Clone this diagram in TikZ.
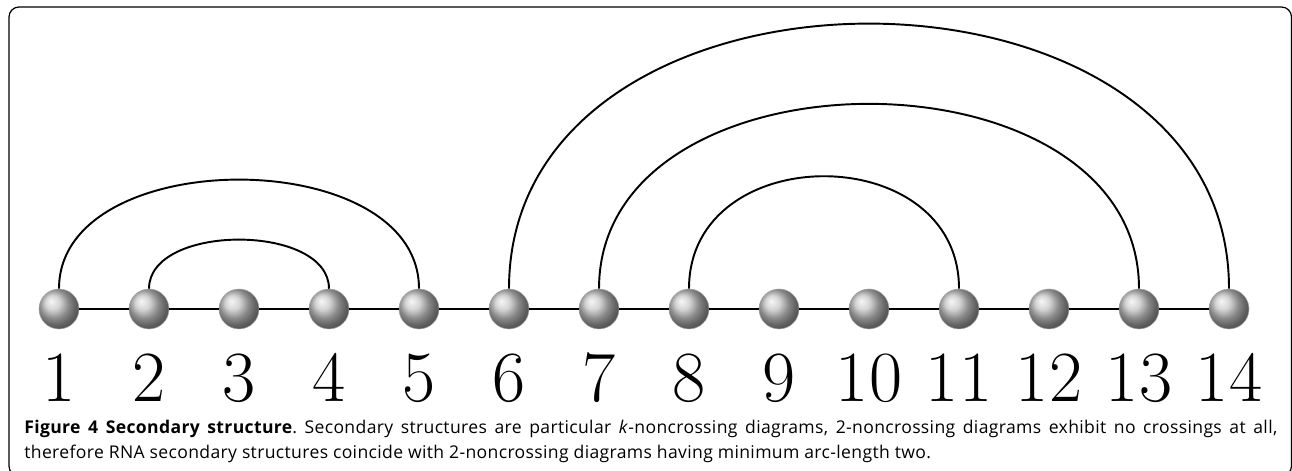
\documentclass[tikz,border=0pt]{standalone}
\usepackage{fontspec}
\newfontfamily\capfont[LetterSpace=2.0]{Open Sans}

\tikzset{
  bead/.style={circle,minimum size=.8cm,inner sep=0pt,shading=ball,ball color=gray!45,draw=gray!70,line width=.3pt},
  idx/.style={anchor=base,inner sep=0pt,font=\fontsize{41}{41}\selectfont},
  chain/.style={line width=1.1pt},
  pair/.style={line width=1.1pt}
}

\begin{document}
\begin{tikzpicture}
\useasboundingbox (0,0) rectangle (25.84,9.42);
\draw[rounded corners=.2cm,line width=.7pt] (.18,-.1) rectangle (25.83,9.28);
% beads
\node[bead] (b1) at (1.18,3.24) {};
\node[bead] (b2) at (2.98,3.24) {};
\node[bead] (b3) at (4.78,3.24) {};
\node[bead] (b4) at (6.58,3.24) {};
\node[bead] (b5) at (8.38,3.24) {};
\node[bead] (b6) at (10.18,3.24) {};
\node[bead] (b7) at (11.98,3.24) {};
\node[bead] (b8) at (13.78,3.24) {};
\node[bead] (b9) at (15.58,3.24) {};
\node[bead] (b10) at (17.38,3.24) {};
\node[bead] (b11) at (19.18,3.24) {};
\node[bead] (b12) at (20.98,3.24) {};
\node[bead] (b13) at (22.78,3.24) {};
\node[bead] (b14) at (24.58,3.24) {};
\draw[chain] (b1) -- (b2) -- (b3) -- (b4) -- (b5) -- (b6) -- (b7) -- (b8) -- (b9) -- (b10) -- (b11) -- (b12) -- (b13) -- (b14);
% arcs
\draw[pair] (b1.north) .. controls +(0,2.91) and +(0,2.91) .. (b5.north);
\draw[pair] (b2.north) .. controls +(0,1.31) and +(0,1.31) .. (b4.north);
\draw[pair] (b6.north) .. controls +(0,7.07) and +(0,7.07) .. (b14.north);
\draw[pair] (b7.north) .. controls +(0,4.93) and +(0,4.93) .. (b13.north);
\draw[pair] (b8.north) .. controls +(0,3.0) and +(0,3.0) .. (b11.north);
% positions
\node[idx] (l1) at (1.18,1.38) {1};
\node[idx] (l2) at (2.98,1.38) {2};
\node[idx] (l3) at (4.78,1.38) {3};
\node[idx] (l4) at (6.58,1.38) {4};
\node[idx] (l5) at (8.38,1.38) {5};
\node[idx] (l6) at (10.18,1.38) {6};
\node[idx] (l7) at (11.98,1.38) {7};
\node[idx] (l8) at (13.78,1.38) {8};
\node[idx] (l9) at (15.58,1.38) {9};
\node[idx] (l10) at (17.38,1.38) {10};
\node[idx] (l11) at (19.18,1.38) {11};
\node[idx] (l12) at (20.98,1.38) {12};
\node[idx] (l13) at (22.78,1.38) {13};
\node[idx] (l14) at (24.58,1.38) {14};
\node[anchor=base west,text width=25.06cm,align=justify,inner sep=0pt,font=\capfont\fontsize{10}{14.2}\selectfont\frenchspacing] (cap) at (.48,.74) {\textbf{Figure 4 Secondary structure}. Secondary structures are particular \textit{k}-noncrossing diagrams, 2-noncrossing diagrams exhibit no crossings at all,\linebreak therefore RNA secondary structures coincide with 2-noncrossing diagrams having minimum arc-length two.};
\end{tikzpicture}
\end{document}
